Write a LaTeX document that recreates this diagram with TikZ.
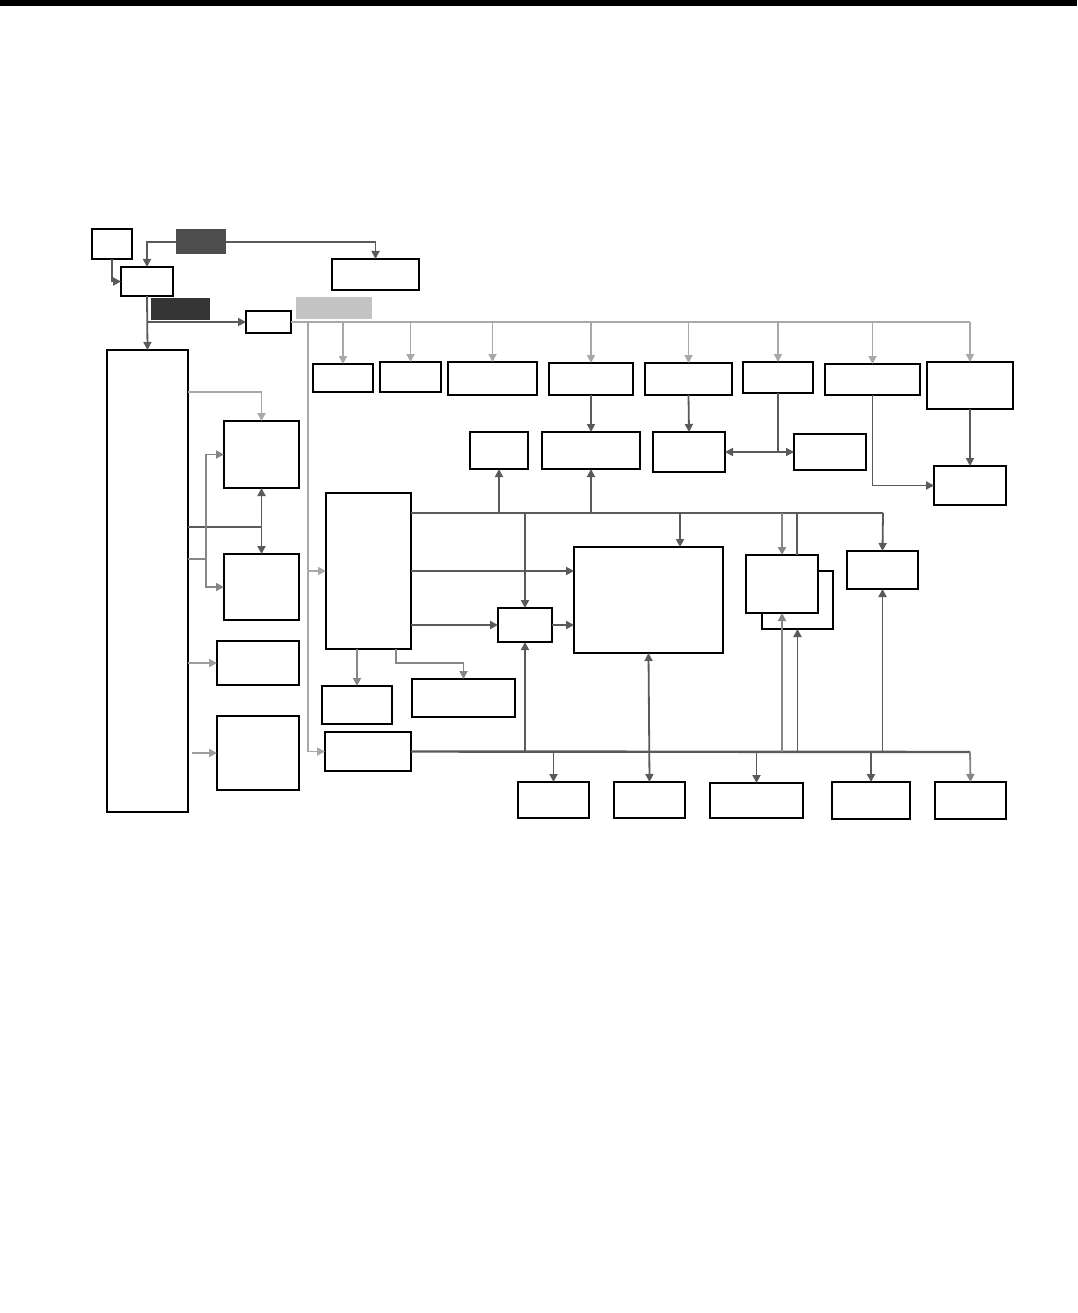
\documentclass[tikz,border=0pt]{standalone}
\usetikzlibrary{arrows.meta}
\definecolor{dk}{HTML}{5A5A5A}
\definecolor{md}{HTML}{868686}
\definecolor{lt}{HTML}{A8A8A8}
\definecolor{dfill}{HTML}{4D4D4D}
\definecolor{dfillb}{HTML}{353535}
\definecolor{lfill}{HTML}{C3C3C3}
\newcommand\pbox[6]{\node[#2,minimum width={#5-#3},minimum height={#6-#4}] (#1) at ({(#3+#5)/2},{(#4+#6)/2}) {};}
\tikzset{
  box/.style={draw=black,line width=1.5pt,fill=white,inner sep=0pt,outer sep=0pt,rectangle},
  tbox/.style={box,line width=2.4pt},
  tip/.style={-{Triangle[length=8pt,width=8pt]}},
  dtip/.style={{Triangle[length=8pt,width=8pt]}-{Triangle[length=8pt,width=8pt]}},
  dkl/.style={draw=dk,line width=1.8pt},
  mdl/.style={draw=md,line width=1.8pt},
  ltl/.style={draw=lt,line width=1.8pt},
  bus/.style={draw=dk,line width=2.4pt},
}
\begin{document}
\begin{tikzpicture}[x=1pt,y=-1pt]
\useasboundingbox (0,0) rectangle (1077,1313);
\fill[black] (0,0) rectangle (1077,6);

% ---- top left boxes
\pbox{A}{box}{92}{229}{132}{259}
\pbox{B}{box}{121}{267}{173}{296}
\pbox{C}{tbox}{332}{259}{419}{290}
\pbox{E}{box}{246}{311}{291}{333}
\pbox{BIG}{tbox}{107}{350}{188}{812}

% ---- connectors top left
\draw[dkl,tip] (A.south) |- (B.west);
\draw[dkl,tip] (201,242) -| (B.north);
\draw[dkl,tip] (201,242) -| (C.north);
\pbox{D1}{draw=none,fill=dfill}{176}{229}{226}{254}
\draw[dkl,tip] (B.south) -- (BIG.north);
\draw[dkl,tip] (B.south |- E.west) -- (E.west);
\pbox{D2}{draw=none,fill=dfillb}{151}{298}{210}{320}
\pbox{L}{draw=none,fill=lfill}{296}{297}{372}{319}

% ---- top gray bus
\coordinate (busR) at (970,322);
\coordinate (gv) at (308,322);
\draw[ltl] (E.east) -- (busR);

\pbox{R1}{box}{313}{364}{373}{392}
\pbox{R2}{box}{380}{362}{441}{392}
\pbox{R3}{box}{448}{362}{537}{395}
\pbox{R4}{box}{549}{363}{633}{395}
\pbox{R5}{box}{645}{363}{732}{395}
\pbox{R6}{box}{743}{362}{813}{393}
\pbox{R7}{tbox}{825}{364}{920}{395}
\pbox{R8}{box}{927}{362}{1013}{409}
\foreach \r in {R1,R2,R3,R4,R5,R6,R7,R8}
  \draw[ltl,tip] (\r.north |- busR) -- (\r.north);

\pbox{S1}{box}{470}{432}{528}{469}
\pbox{S2}{tbox}{542}{432}{640}{469}
\pbox{S3}{box}{653}{432}{725}{472}
\pbox{S4}{tbox}{794}{434}{866}{470}
\pbox{S5}{tbox}{934}{466}{1006}{505}
\draw[dkl,tip] (R4.south) -- (S2.north);
\draw[dkl,tip] (R5.south) -- (S3.north);
\coordinate (j6) at (778,452);
\draw[dkl] (R6.south) -- (j6);
\draw[dkl,dtip] (S3.east) -- (S4.west);
\draw[dkl,tip] (R7.south) |- (S5.west);
\draw[dkl,tip] (R8.south) -- (S5.north);

% ---- left column
\pbox{M1}{box}{224}{421}{299}{488}
\pbox{M2}{box}{224}{554}{299}{620}
\pbox{M3}{box}{217}{641}{299}{685}
\pbox{M4}{box}{217}{716}{299}{790}
\draw[ltl,tip] (BIG.east |- 0,392) -| (M1.north);
\draw[dkl,dtip] (M1.south) -- (M2.north);
\draw[dkl] (BIG.east |- 0,527) -- (M1.south |- 0,527);
\coordinate (g206) at (206,559);
\draw[mdl] (BIG.east |- g206) -- (g206);
\draw[mdl,tip] (206,454) |- (M1.west);
\draw[mdl,tip] (206,454) |- (M2.west);
\draw[md!80!white,line width=1.8pt,tip] (BIG.east |- M3.west) -- (M3.west);
\draw[md!80!white,line width=1.8pt,tip] (192,753) -- (M4.west);

% ---- middle
\pbox{P}{tbox}{326}{493}{411}{649}
\pbox{U}{box}{325}{732}{411}{771}
\pbox{T1}{tbox}{322}{686}{392}{724}
\pbox{T2}{box}{412}{679}{515}{717}
\pbox{Q}{tbox}{498}{608}{552}{642}
\pbox{CPU}{box}{574}{547}{723}{653}
\draw[line width=2.4pt] (CPU.north east) -- (CPU.south east);
\pbox{V2}{tbox}{762}{571}{833}{629}
\pbox{V1}{box}{746}{555}{818}{613}
\draw[line width=2.4pt] (V1.south west) -- (V1.south east);
\pbox{W}{tbox}{847}{551}{918}{589}

\draw[ltl,tip] (gv) |- (U.west);
\draw[ltl,tip] (gv |- P.west) -- (P.west);

% top bus from P
\coordinate (tb) at (883,513);
\coordinate (tcpu) at (680,513);
\coordinate (tv) at (797,513);
\draw[dkl,line width=2.2pt] (P.east |- tb) -- (tb);
\draw[dkl,tip] (tb) -- (W.north);
\draw[dkl,tip] (S1.south |- tb) -- (S1.south);
\draw[dkl,tip] (S2.south |- tb) -- (S2.south);
\draw[dkl,tip] (Q.north |- tb) -- (Q.north);
\draw[dkl,tip] (tcpu) -- (tcpu |- CPU.north);
\draw[md,line width=2pt,tip] (V1.north |- tb) -- (V1.north);
\draw[dkl] (tv) -- (tv |- V1.north);

\draw[dk,line width=2.4pt,tip] (P.east) -- (P.east -| CPU.west);
\draw[dkl,line width=2pt,tip] (P.east |- Q.west) -- (Q.west);
\draw[dkl,line width=2pt,tip] (Q.east) -- (Q.east -| CPU.west);
\draw[mdl,tip] (T1.north |- P.south) -- (T1.north);
\coordinate (pt2) at (396,649);
\draw[mdl,tip] (pt2) |- (T2.north |- 0,663) -- (T2.north);

% bottom bus
\coordinate (bb) at (970,752);
\draw[bus] (U.east) -- (bb);
\pbox{X1}{box}{518}{782}{589}{818}
\pbox{X2}{box}{614}{782}{685}{818}
\pbox{X3}{tbox}{710}{783}{803}{818}
\pbox{X4}{box}{832}{782}{910}{819}
\pbox{X5}{box}{935}{782}{1006}{819}
\draw[dkl,tip] (Q.south |- bb) -- (Q.south);
\draw[dkl,dtip] (CPU.south) -- (X2.north);
\draw[dkl,tip] (X1.north |- bb) -- (X1.north);
\draw[dkl,tip] (X3.north |- bb) -- (X3.north);
\draw[dkl,tip] (X4.north |- bb) -- (X4.north);
\draw[mdl,tip] (bb) -- (X5.north);
\draw[md,line width=2.2pt,tip] (V1.south |- bb) -- (V1.south);
\draw[dkl,tip] (V2.south |- bb) -- (V2.south);
\draw[dkl,tip] (W.south |- bb) -- (W.south);
\end{tikzpicture}
\end{document}
